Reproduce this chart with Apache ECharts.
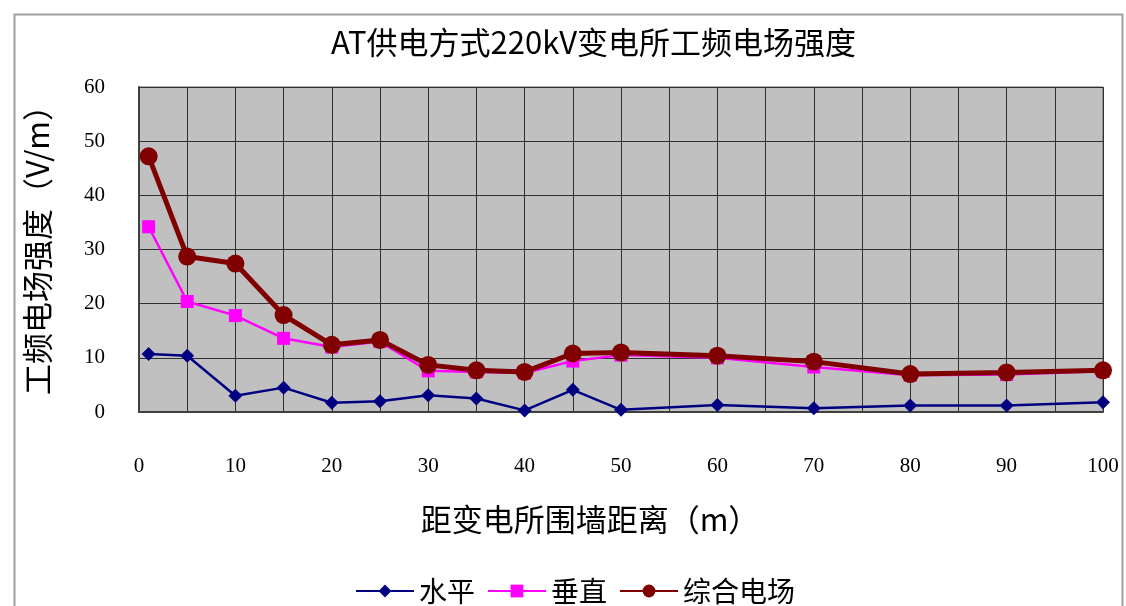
<!DOCTYPE html>
<html>
<head>
<meta charset="utf-8">
<script src="https://cdn.jsdelivr.net/npm/echarts@6/dist/echarts.min.js"></script>
<style>html,body{margin:0;padding:0;background:#fff;}#c{width:1126px;height:606px;}</style>
</head>
<body>
<div id="c"></div>
<script>
const distances = [1, 5, 10, 15, 20, 25, 30, 35, 40, 45, 50, 60, 70, 80, 90, 100];
const horizontal = [10.7, 10.4, 3.0, 4.5, 1.7, 2.0, 3.1, 2.5, 0.3, 4.1, 0.4, 1.3, 0.7, 1.2, 1.2, 1.8];
const vertical = [34.2, 20.4, 17.8, 13.6, 12.0, 13.0, 7.6, 7.4, 7.2, 9.4, 10.5, 10.0, 8.3, 6.8, 6.9, 7.5];
const combined = [47.2, 28.7, 27.4, 17.9, 12.4, 13.3, 8.7, 7.7, 7.4, 10.8, 11.0, 10.4, 9.3, 7.0, 7.3, 7.7];
const seriesNames = ['水平', '垂直', '综合电场'];
const titleText = 'AT供电方式220kV变电所工频电场强度';
const xName = '距变电所围墙距离（m）';
const yName = '工频电场强度（V/m）';

const pair = arr => distances.map((d, i) => [d, arr[i]]);
const cjk = '"Noto Sans CJK SC", sans-serif';
const serif = '"Liberation Serif", serif';

const chart = echarts.init(document.getElementById('c'));
chart.setOption({
  backgroundColor: '#ffffff',
  animation: false,
  graphic: [{
    type: 'rect', left: 12, top: 12, z: -10,
    shape: { width: 1108, height: 620 },
    style: { fill: 'none', stroke: '#a0a0a0', lineWidth: 2 }
  }],
  title: {
    text: titleText, left: 326, top: 22,
    textStyle: { fontFamily: cjk, fontSize: 31, fontWeight: 'normal', color: '#000' }
  },
  legend: {
    data: seriesNames, left: 350, top: 572,
    itemWidth: 58, itemHeight: 16, itemGap: 12,
    textStyle: { fontFamily: cjk, fontSize: 28, color: '#000' }
  },
  grid: {
    left: 139, right: 23, top: 87, bottom: 194,
    show: true, backgroundColor: '#c0c0c0', borderColor: '#606060', borderWidth: 1
  },
  xAxis: {
    type: 'value', min: 0, max: 100, interval: 5,
    name: xName, nameLocation: 'middle', nameGap: 92,
    nameTextStyle: { fontFamily: cjk, fontSize: 31, color: '#000', padding: [0, 62, 0, 0] },
    axisLine: { show: true, lineStyle: { color: '#404040', width: 2 } },
    axisTick: { show: false },
    axisLabel: {
      margin: 44, fontFamily: serif, fontSize: 21, color: '#000',
      formatter: v => (v % 10 === 0 ? String(v) : '')
    },
    splitLine: { show: true, lineStyle: { color: '#303030', width: 1 } }
  },
  yAxis: {
    type: 'value', min: 0, max: 60, interval: 10,
    name: yName, nameLocation: 'middle', nameGap: 86, nameRotate: 90,
    nameTextStyle: { fontFamily: cjk, fontSize: 31, color: '#000', padding: [0, 0, 0, 14] },
    axisLine: { show: true, lineStyle: { color: '#404040', width: 2 } },
    axisTick: { show: false },
    axisLabel: { margin: 34, fontFamily: serif, fontSize: 21, color: '#000' },
    splitLine: { show: true, lineStyle: { color: '#303030', width: 1 } }
  },
  series: [
    {
      name: seriesNames[0], type: 'line', data: pair(horizontal),
      symbol: 'diamond', symbolSize: 14,
      lineStyle: { color: '#000080', width: 2.5 },
      itemStyle: { color: '#000080' }
    },
    {
      name: seriesNames[1], type: 'line', data: pair(vertical),
      symbol: 'rect', symbolSize: 13,
      lineStyle: { color: '#ff00ff', width: 2.5 },
      itemStyle: { color: '#ff00ff' }
    },
    {
      name: seriesNames[2], type: 'line', data: pair(combined),
      symbol: 'circle', symbolSize: 18,
      lineStyle: { color: '#800000', width: 5 },
      itemStyle: { color: '#800000' }
    }
  ]
});
</script>
</body>
</html>
